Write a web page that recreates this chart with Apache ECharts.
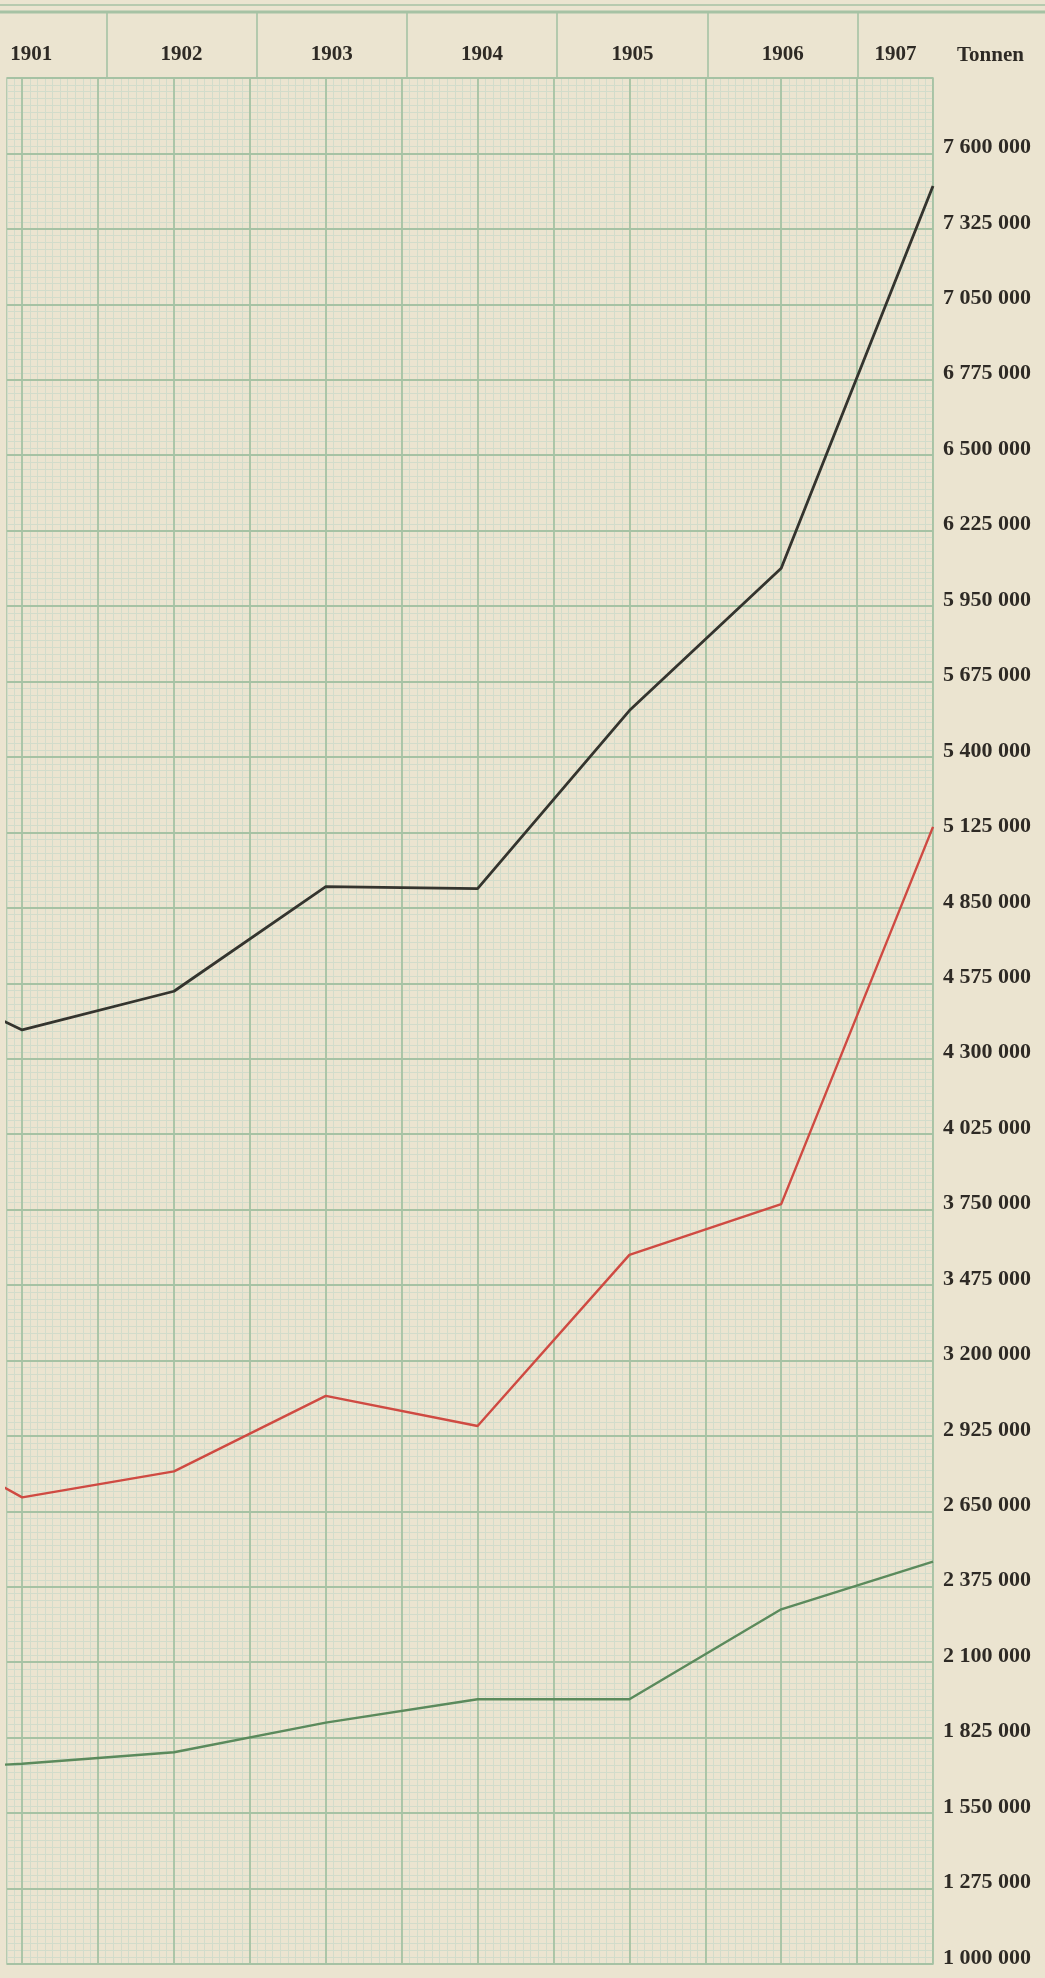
<!DOCTYPE html>
<html>
<head>
<meta charset="utf-8">
<script src="https://cdn.jsdelivr.net/npm/echarts@6/dist/echarts.min.js"></script>
<style>
  html, body { margin: 0; padding: 0; background: #ebe4d0; }
  #chart { width: 1045px; height: 1978px; }
</style>
</head>
<body>
<div id="chart"></div>
<script>
  // 1900 only feeds the clipped stub at the left edge
  const years = [1900, 1901, 1902, 1903, 1904, 1905, 1906, 1907]
  const headerYears = ['1901', '1902', '1903', '1904', '1905', '1906', '1907']

  const blackValues = [4670000, 4405000, 4546000, 4927000, 4920000, 5569000, 6088000, 7481000]
  const redValues = [3005000, 2701000, 2796000, 3071000, 2961000, 3585000, 3770000, 5145000]
  const greenValues = [1700000, 1730000, 1772000, 1880000, 1965000, 1965000, 2293000, 2467000]

  const yLabels = [
    '1 000 000', '1 275 000', '1 550 000', '1 825 000', '2 100 000',
    '2 375 000', '2 650 000', '2 925 000', '3 200 000', '3 475 000',
    '3 750 000', '4 025 000', '4 300 000', '4 575 000', '4 850 000',
    '5 125 000', '5 400 000', '5 675 000', '5 950 000', '6 225 000',
    '6 500 000', '6 775 000', '7 050 000', '7 325 000', '7 600 000',
  ]

  const Y_MIN = 1000000
  const Y_MAX = 7875000
  const Y_STEP = 275000
  const Y_FINE = 25000
  const X_MIN = 1900.9
  const X_MAX = 1907
  const X_FINE = 0.05

  const fineColor = '#d2dccb'
  const majorColor = '#a6c2a4'
  const textColor = '#2e2a25'
  const serif = '"Liberation Serif", "DejaVu Serif", serif'

  // every 11th fine y line is a major one, every 10th x line (starting at 1901)
  const yMajorColors = Array.from({ length: 11 }, (_, i) => (i === 0 ? majorColor : 'transparent'))
  const xMajorColors = Array.from({ length: 10 }, (_, i) => (i === 2 ? majorColor : 'transparent'))
  const headerColors = [majorColor, 'transparent', 'transparent', 'transparent']

  const toPairs = (vals) => vals.map((v, i) => [years[i], v])

  const hidden = { axisLine: { show: false }, axisTick: { show: false }, axisLabel: { show: false } }

  const chart = echarts.init(document.getElementById('chart'))
  chart.setOption({
    animation: false,
    backgroundColor: '#ebe4d0',
    graphic: [
      { type: 'line', shape: { x1: 0, y1: 5, x2: 1045, y2: 5 }, style: { stroke: majorColor, lineWidth: 1.5 } },
      { type: 'line', shape: { x1: 0, y1: 12, x2: 1045, y2: 12 }, style: { stroke: majorColor, lineWidth: 3 } },
    ],
    grid: [
      {
        left: 7, right: 112, top: 78, bottom: 14, outerBoundsMode: 'none',
        show: true, borderColor: majorColor, borderWidth: 1.5,
      },
      { left: -44, right: 112, top: 13, height: 64, outerBoundsMode: 'none' },
    ],
    xAxis: [
      {
        type: 'value', gridIndex: 0, min: X_MIN, max: X_MAX, interval: X_FINE, z: 0, ...hidden,
        splitLine: { show: true, lineStyle: { color: fineColor, width: 1 } },
      },
      {
        type: 'value', gridIndex: 0, min: X_MIN, max: X_MAX, interval: X_FINE, z: 2, ...hidden,
        splitLine: { show: true, lineStyle: { color: xMajorColors, width: 1.8 } },
      },
      {
        // header columns
        type: 'value', gridIndex: 1, min: 0, max: 6.5, interval: 0.25,
        axisLine: { show: false },
        axisTick: { show: false },
        splitLine: { show: true, showMaxLine: false, lineStyle: { color: headerColors, width: 1.6 } },
        axisLabel: {
          show: true,
          inside: true,
          margin: 12,
          color: textColor,
          fontFamily: serif,
          fontWeight: 'bold',
          fontSize: 21,
          formatter: (v) => {
            const k = Math.round(v * 4)
            if (k % 4 === 2 && k <= 22) return headerYears[(k - 2) / 4]
            if (k === 25) return headerYears[6]
            return ''
          },
        },
      },
    ],
    yAxis: [
      {
        type: 'value', gridIndex: 0, position: 'right', min: Y_MIN, max: Y_MAX, interval: Y_FINE, z: 0, ...hidden,
        splitLine: { show: true, lineStyle: { color: fineColor, width: 1 } },
      },
      {
        type: 'value', gridIndex: 0, position: 'right', min: Y_MIN, max: Y_MAX, interval: Y_FINE, z: 2,
        axisLine: { show: false },
        axisTick: { show: false },
        splitLine: { show: true, lineStyle: { color: yMajorColors, width: 1.8 } },
        axisLabel: {
          show: true,
          margin: 10,
          align: 'left',
          verticalAlign: 'bottom',
          lineHeight: 12,
          color: textColor,
          fontFamily: serif,
          fontWeight: 'bold',
          fontSize: 22,
          formatter: (v) => {
            const idx = (v - Y_MIN) / Y_STEP
            const r = Math.round(idx)
            if (Math.abs(idx - r) < 1e-6 && r < yLabels.length) return yLabels[r]
            return ''
          },
        },
        name: 'Tonnen',
        nameLocation: 'end',
        nameGap: 12,
        nameTextStyle: {
          align: 'left',
          padding: [0, 0, 0, 24],
          color: textColor,
          fontFamily: serif,
          fontWeight: 'bold',
          fontSize: 21,
        },
      },
      { type: 'value', gridIndex: 1, min: 0, max: 1, show: false },
    ],
    series: [
      {
        type: 'line', xAxisIndex: 0, yAxisIndex: 0, data: toPairs(blackValues), symbol: 'none', z: 5,
        lineStyle: { color: '#34342e', width: 2.8 },
      },
      {
        type: 'line', xAxisIndex: 0, yAxisIndex: 0, data: toPairs(redValues), symbol: 'none', z: 5,
        lineStyle: { color: '#cf4a42', width: 2.4 },
      },
      {
        type: 'line', xAxisIndex: 0, yAxisIndex: 0, data: toPairs(greenValues), symbol: 'none', z: 5,
        lineStyle: { color: '#5b8a5c', width: 2.4 },
      },
    ],
  })
</script>
</body>
</html>
